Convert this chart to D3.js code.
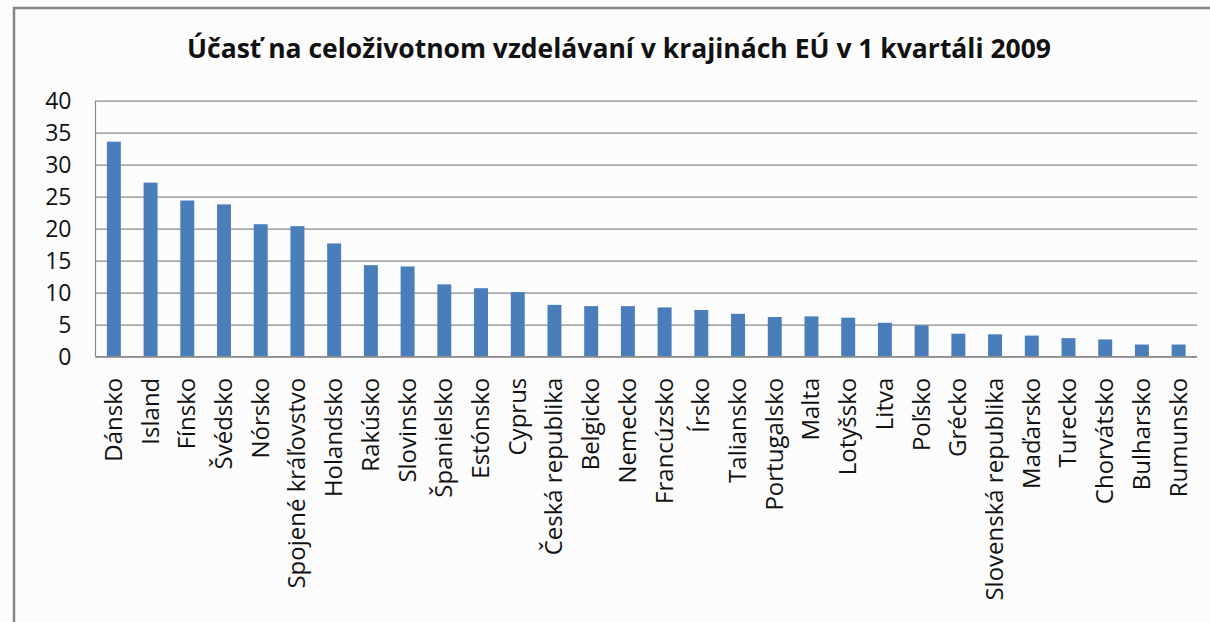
<!DOCTYPE html>
<html><head><meta charset="utf-8">
<script src="https://cdn.jsdelivr.net/npm/d3@7"></script>
<style>
html,body{margin:0;padding:0;background:#fff;}
svg{display:block;}
</style></head>
<body>
<svg id="chart" width="1210" height="622"></svg>
<script>
const title = "Účasť na celoživotnom vzdelávaní v krajinách EÚ v 1 kvartáli 2009";
const categories = ["Dánsko","Island","Fínsko","Švédsko","Nórsko","Spojené kráľovstvo","Holandsko","Rakúsko","Slovinsko","Španielsko","Estónsko","Cyprus","Česká republika","Belgicko","Nemecko","Francúzsko","Írsko","Taliansko","Portugalsko","Malta","Lotyšsko","Litva","Poľsko","Grécko","Slovenská republika","Maďarsko","Turecko","Chorvátsko","Bulharsko","Rumunsko"];
const values = [33.6,27.2,24.4,23.8,20.7,20.4,17.7,14.3,14.1,11.3,10.7,10.1,8.1,7.9,7.9,7.7,7.3,6.7,6.2,6.3,6.1,5.3,4.9,3.6,3.5,3.3,2.9,2.7,1.9,1.9];
const yTicks = [0,5,10,15,20,25,30,35,40];

(function(){
const svg = d3.select("#chart");
svg.append("rect").attr("width",1210).attr("height",622).attr("fill","#fdfcfd");
// frame
svg.append("path").attr("d","M14,622V8H1210").attr("fill","none").attr("stroke","#858585").attr("stroke-width",2.5);

const pL = 95.5, pR = 1197, pT = 100.7, pB = 356.7;
const x = d3.scaleBand().domain(categories).range([pL, pR]).paddingInner(0.62).paddingOuter(0.31);
const y = d3.scaleLinear().domain([0,40]).range([pB, pT]);

// gridlines
svg.append("g").attr("transform",`translate(${pL},0)`)
  .call(d3.axisLeft(y).tickValues(yTicks).tickSize(-(pR-pL)).tickFormat(""))
  .call(g=>g.select(".domain").remove())
  .call(g=>g.selectAll("line").attr("stroke","#8a8a8a").attr("stroke-width",1.2));

// y labels
svg.append("g").attr("transform",`translate(${pL},0)`)
  .call(d3.axisLeft(y).tickValues(yTicks).tickSize(0).tickPadding(24))
  .call(g=>g.select(".domain").remove())
  .call(g=>g.selectAll("text").attr("font-family","'Open Sans', sans-serif").attr("font-size",23).attr("fill","#111"));

// bars
svg.append("g").selectAll("rect").data(categories).join("rect")
  .attr("x", d=>x(d)).attr("width", x.bandwidth())
  .attr("y", (d,i)=>y(values[i])).attr("height", (d,i)=>y(0)-y(values[i]))
  .attr("fill","#4a7ebb");

// axis lines
svg.append("line").attr("x1",pL).attr("x2",pL).attr("y1",pT).attr("y2",pB).attr("stroke","#8a8a8a").attr("stroke-width",1.2);
svg.append("line").attr("x1",pL).attr("x2",pR).attr("y1",pB).attr("y2",pB).attr("stroke","#8a8a8a").attr("stroke-width",1.2);

// x labels
const xa = svg.append("g").attr("transform",`translate(0,${pB})`)
  .call(d3.axisBottom(x).tickSize(0).tickPadding(0))
  .call(g=>g.select(".domain").remove());
xa.selectAll("text")
  .attr("font-family","'Open Sans', sans-serif").attr("font-size",24).attr("fill","#111")
  .attr("text-anchor","end").attr("dy",null).attr("y",0)
  .attr("transform","translate(8,21) rotate(-90)");

// title
svg.append("text").attr("x",619).attr("y",58).attr("text-anchor","middle")
  .attr("font-family","'Open Sans', sans-serif").attr("font-weight","bold").attr("font-size",26)
  .attr("textLength",864).attr("lengthAdjust","spacingAndGlyphs")
  .attr("fill","#111").text(title);
})();
</script>
</body></html>
